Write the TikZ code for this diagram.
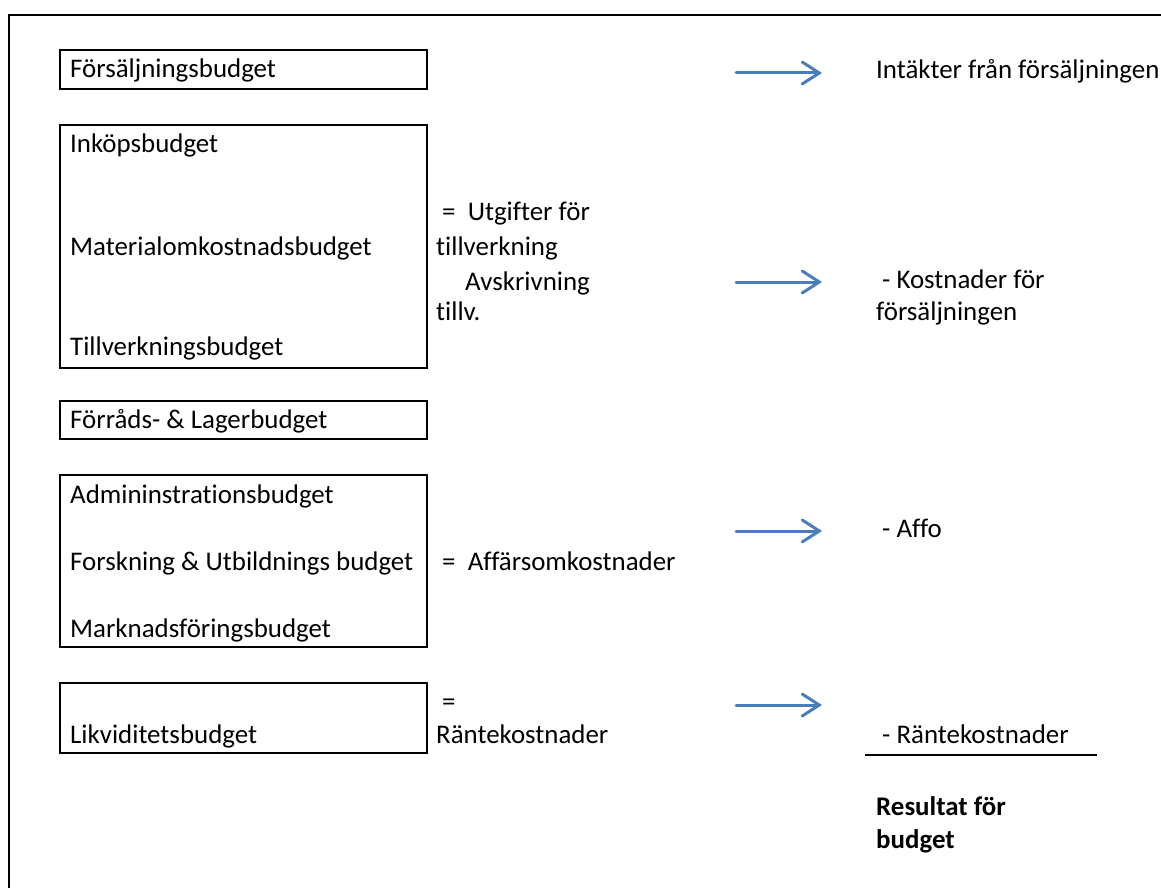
\documentclass[tikz,border=0pt]{standalone}
\usepackage{fontspec}
\setmainfont{Carlito}[Ligatures={NoCommon}]
\usetikzlibrary{arrows.meta}
\definecolor{pilblue}{RGB}{74,126,187}
\tikzset{
  budgetbox/.style={draw, line width=2pt},
  txt/.style={anchor=base west, inner sep=0pt, font=\fontsize{26.9}{33}\selectfont},
  pil/.style={draw=pilblue, line width=3pt, line cap=round, -{Straight Barb[length=17pt,width=22pt,line cap=round]}},
}
\begin{document}
\begin{tikzpicture}[x=1pt,y=-1pt]
  \useasboundingbox (0,0) rectangle (1161,888);
  % ram
  \draw[line width=2pt] (9,888) -- (9,15) -- (1161,15);

  % budgetar
  \draw[budgetbox] (60,50) rectangle (427,89);
  \node[txt] (forsalj) at (70,78) {Försäljningsbudget};
  \draw[budgetbox] (60,125) rectangle (427,368);
  \node[txt] (inkop) at (70,153) {Inköpsbudget};
  \node[txt] (material) at (70,255) {Materialomkostnadsbudget};
  \node[txt] (tillverk) at (70,355) {Tillverkningsbudget};
  \draw[budgetbox] (60,401) rectangle (427,439);
  \node[txt] (forrad) at (70,428) {Förråds- \& Lagerbudget};
  \draw[budgetbox] (60,475) rectangle (427,647);
  \node[txt] (admin) at (70,503) {Admininstrationsbudget};
  \node[txt] (forskning) at (70,570) {Forskning \& Utbildnings budget};
  \node[txt] (marknad) at (70,637) {Marknadsföringsbudget};
  \draw[budgetbox] (60,683) rectangle (427,753);
  \node[txt] (likvid) at (70,743) {Likviditetsbudget};

  % summor
  \node[txt] (utgifter) at (442,220) {= \ Utgifter för};
  \node[txt] (utgifter2) at (436,255) {tillverkning};
  \node[txt] (avskr) at (465,290) {Avskrivning};
  \node[txt] (avskr2) at (436,320) {tillv.};
  \node[txt] (affar) at (442,570) {= \ Affärsomkostnader};
  \node[txt] (ranta) at (442,710) {=};
  \node[txt] (ranta2) at (436,743) {Räntekostnader};

  % pilar
  \foreach \n/\y in {1/73, 2/282, 3/531, 4/705} {
    \coordinate (p\n s) at (736,\y);
    \coordinate (p\n e) at (822,\y);
    \draw[pil] (p\n s) -- (p\n e);
  }

  % resultat
  \node[txt] (intakt) at (876,79) {Intäkter från försäljningen};
  \node[txt] (kostn) at (882,288) {- Kostnader för};
  \node[txt] (kostn2) at (876,320) {försäljningen};
  \node[txt] (affo) at (882,537) {- Affo};
  \node[txt] (rkost) at (882,743) {- Räntekostnader};
  \coordinate (streck v) at (865,755);
  \coordinate (streck h) at (1097,755);
  \draw[line width=2pt] (streck v) -- (streck h);
  \node[txt, font=\fontsize{26.9}{33}\selectfont\bfseries] (result) at (876,815) {Resultat för};
  \node[txt, font=\fontsize{26.9}{33}\selectfont\bfseries] (result2) at (876,848) {budget};
\end{tikzpicture}
\end{document}
